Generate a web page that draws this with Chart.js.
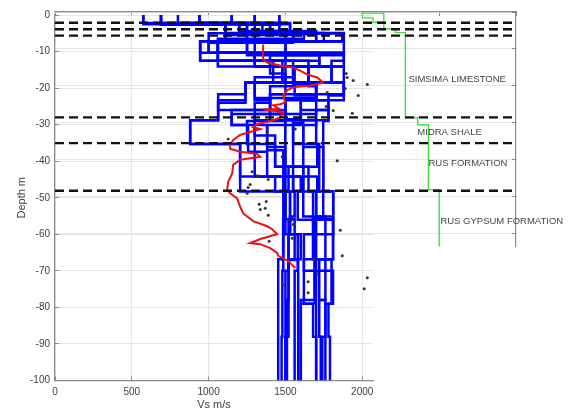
<!DOCTYPE html>
<html>
<head>
<meta charset="utf-8">
<script src="https://cdn.jsdelivr.net/npm/chart.js@4.4.1/dist/chart.umd.min.js"></script>
<style>
  body { margin: 0; background: #fff; }
  #wrap { position: relative; width: 570px; height: 412px; }
  #wrap canvas { position: absolute; left: 0; top: 0; }
</style>
</head>
<body>
<div id="wrap">
  <canvas id="frame" width="570" height="412"></canvas>
  <canvas id="main" width="570" height="412"></canvas>
  <canvas id="geo" width="570" height="412"></canvas>
</div>
<script>
// Vs profiles (layer bottoms in m, shear velocity in m/s)
const profileBottoms = [
  [-2.2, -4.9, -7.2, -12.5, -18.5, -23.3, -28.8, -35.3, -48.3, -55.9, -66.8, -88, -100],
  [-2.7, -5.5, -7.6, -10.3, -14.1, -18.5, -21.7, -26, -30.1, -37.4, -44.2, -48.3, -55.1, -60, -70, -78, -100],
  [-2.2, -4.4, -7.2, -12.5, -17, -22.7, -27.1, -35.3, -41.5, -48.3, -56, -66.8, -78, -100],
  [-2.7, -5, -7.6, -11, -14.1, -19.5, -23.3, -28.5, -36.1, -44.2, -48.3, -55.1, -66.8, -79, -88, -100],
  [-2.2, -5, -7.2, -10.3, -12.5, -18.5, -22, -26, -30.1, -36.1, -48.3, -60, -70, -79, -100],
  [-2.5, -5.3, -7.6, -12.5, -16, -21.7, -27.1, -29.5, -37.4, -48.3, -55.9, -66.8, -88, -100],
  [-2.2, -4.9, -6.5, -10.3, -14.1, -18.5, -24, -28.8, -35.3, -44.2, -48.3, -56, -67, -78, -100],
  [-2.7, -4.9, -7.2, -10.3, -14.1, -19, -23.3, -28.8, -35.3, -41.5, -48.3, -55.1, -66.8, -79, -100],
  [-2.5, -5, -7.6, -12.5, -18.5, -22.7, -27.1, -30.1, -37, -48.3, -60, -70, -88, -100],
  [-2.2, -5, -7.2, -10.3, -14.1, -18.5, -23.3, -28.8, -33, -41.5, -48.3, -55.9, -66.8, -78, -88, -100],
  [-2.7, -5, -7.2, -11, -14.1, -18.5, -21.7, -26, -29, -35.3, -44.2, -48.3, -60, -70, -100],
  [-2.2, -4.4, -7.2, -12.5, -14.1, -18.5, -23.3, -26, -29, -37.4, -48.3, -55.1, -66.8, -79, -100],
  [-2.5, -4.9, -7.2, -10.3, -14.1, -18.5, -22, -27.1, -30.1, -36.1, -44.2, -48.3, -55.1, -66.8, -79, -88, -100],
  [-2.2, -5, -7.6, -12.5, -14.1, -19.5, -24, -28.8, -35.3, -41.5, -48.3, -60, -66.8, -78, -100],
  [-2.7, -5.3, -7.2, -10.3, -14.1, -18.5, -23.3, -28.8, -35.3, -48.3, -55.9, -66.8, -78, -88, -100]
];
const profileVs = [
  [575, 1460, 1880, 945, 1420, 1240, 1062, 880, 1205, 1500, 1485, 1453, 1453],
  [690, 1110, 1550, 1000, 1300, 1480, 1880, 1400, 1150, 1257, 1381, 1550, 1560, 1530, 1520, 1500, 1500],
  [940, 1200, 1700, 1060, 1550, 1300, 1500, 1300, 1433, 1616, 1580, 1810, 1690, 1600],
  [1300, 1400, 1110, 1250, 1720, 1650, 1700, 1600, 1500, 1498, 1707, 1746, 1680, 1620, 1680, 1700],
  [1150, 1300, 1870, 1500, 1880, 1800, 1880, 1780, 1700, 1616, 1746, 1811, 1620, 1810, 1760],
  [690, 1530, 1250, 1500, 1400, 1500, 1400, 1600, 1550, 1550, 1498, 1560, 1520, 1500],
  [940, 1110, 1620, 1060, 1300, 1880, 1240, 1062, 880, 1205, 1433, 1530, 1520, 1583, 1583],
  [1460, 1350, 1750, 945, 1720, 1550, 1700, 1500, 1700, 1707, 1616, 1616, 1680, 1690, 1600],
  [575, 1250, 1000, 1300, 1480, 1700, 1500, 1150, 1381, 1490, 1485, 1485, 1480, 1475],
  [1300, 1460, 1880, 1250, 1060, 1650, 1300, 1400, 1300, 1433, 1650, 1700, 1810, 1720, 1760, 1740],
  [940, 1110, 1500, 1880, 1400, 1550, 1240, 1062, 1500, 1250, 1300, 1500, 1530, 1580, 1560],
  [690, 1530, 1300, 945, 1720, 1800, 1880, 1600, 1780, 1746, 1746, 1811, 1690, 1700, 1700],
  [1150, 1250, 1550, 1000, 1500, 1650, 1560, 1700, 1600, 1381, 1500, 1600, 1700, 1760, 1800, 1780, 1790],
  [800, 1400, 1250, 1060, 1650, 1560, 1400, 1300, 1550, 1616, 1520, 1500, 1600, 1520, 1510],
  [1460, 1200, 1700, 1060, 1880, 1500, 1700, 1780, 1616, 1720, 1680, 1700, 1760, 1720, 1730]
];

// red averaged profile
const redVs = [1355, 1355, 1381, 1466, 1550, 1596, 1642, 1707, 1746, 1661, 1550, 1511, 1485, 1498, 1466,
  1420, 1466, 1401, 1355, 1485, 1466, 1420, 1316, 1290, 1336, 1270, 1205, 1160, 1140, 1140, 1205, 1316,
  1336, 1205, 1160, 1153, 1127, 1121, 1140, 1186, 1205, 1225, 1290, 1381, 1414, 1446, 1336, 1270, 1336,
  1401, 1446, 1453, 1518, 1564];
const redDepths = [-8.1, -12.2, -13.0, -13.8, -14.4, -15.2, -16.3, -17.1, -18.5, -19.3, -19.8, -20.6, -22.0,
  -23.9, -24.4, -24.7, -25.8, -25.8, -25.8, -26.6, -28.0, -28.8, -29.9, -30.7, -31.2, -32.0, -32.8, -34.2,
  -35.5, -36.6, -37.4, -38.0, -38.8, -39.6, -41.0, -43.4, -45.6, -47.8, -48.8, -50.2, -52.4, -54.3, -56.4,
  -57.8, -58.6, -60.0, -61.3, -62.4, -62.7, -63.8, -65.1, -65.9, -67.3, -69.2];

// measured points
const dotVs = [1896, 1941, 2033, 1889, 1974, 1902, 1772, 1765, 1811, 1935, 1564, 1381, 1127, 1479, 1837,
  1283, 1316, 1388, 1270, 1257, 1251, 1375, 1329, 1368, 1336, 1388, 1537, 1550, 1857, 1544, 1394, 1583,
  1870, 1687, 1485, 1648, 1648, 2033, 2013, 1707];
const dotDepths = [-16.0, -17.9, -19.0, -20.1, -22.0, -17.1, -21.2, -25.0, -26.1, -26.9, -31.2, -32.0, -33.9,
  -38.8, -39.9, -42.9, -44.0, -45.0, -46.4, -47.2, -48.8, -51.0, -51.8, -52.9, -53.2, -54.8, -56.2, -57.3,
  -58.9, -61.1, -61.9, -63.2, -65.9, -66.8, -73.8, -73.0, -76.0, -71.9, -74.9, -70.8];

// formation boundaries and geology column
const dashDepths = [-2.9, -4.7, -6.4, -28.6, -35.6, -48.5];
const dashSpan = [0, 3000];
const greenVs = [2000, 2070, 2140, 2215, 2280, 2360, 2430, 2500];
const greenBottoms = [-1.6, -2.8, -4.6, -5.6, -28.7, -30.6, -48.2, -63.7];
const greenCapVs = [2000, 2140, 2140];
const greenCapDepths = [-0.3, -0.3, -2.8];
const formationNames = ["SIMSIMA LIMESTONE", "MIDRA SHALE", "RUS FORMATION", "RUS GYPSUM FORMATION"];
const formationLabelVs = [2300, 2358, 2430, 2508];
const formationLabelDepths = [-18.2, -32.8, -41.2, -56.7];

// axis ticks
const vsTicks = [0, 500, 1000, 1500, 2000];
const depthTicks = [0, -10, -20, -30, -40, -50, -60, -70, -80, -90, -100];
const geoVsTicks = [0, 500, 1000, 1500, 2000, 2500, 3000];
const geoDepthTicks = [0, -10, -20, -30, -40, -50, -60];

const FONT = "'Liberation Sans', Arial, sans-serif";
const TEXT = "#404040";
const AXIS = "#8a8a8a";
const GRID = "#e6e6e6";
const GEO_PADDING = { top: 12, left: 55, right: 54, bottom: 165.3 };

function stepPoints(bottoms, vs) {
  const pts = [];
  let top = 0;
  for (let i = 0; i < vs.length; i++) {
    pts.push({ x: vs[i], y: top });
    pts.push({ x: vs[i], y: bottoms[i] });
    top = bottoms[i];
  }
  return pts;
}

function setTicks(values) {
  return s => { s.ticks = values.map(v => ({ value: v })); };
}

// ---- main axes: blue profiles, red mean, black points ----
const mainSets = [];
mainSets.push({
  data: redVs.map((v, i) => ({ x: v, y: redDepths[i] })),
  borderColor: "#ee1111", borderWidth: 2, pointRadius: 0, showLine: true, order: 0
});
mainSets.push({
  data: dotVs.map((v, i) => ({ x: v, y: dotDepths[i] })),
  backgroundColor: "#333", borderWidth: 0, pointRadius: 1.5, showLine: false, order: 1
});
profileVs.forEach((vs, i) => {
  mainSets.push({
    data: stepPoints(profileBottoms[i], vs),
    borderColor: "#0000ff", borderWidth: 2.5, pointRadius: 0, showLine: true, order: 2
  });
});

// ---- geology axes: dashed boundaries, green column ----
const geoSets = [];
dashDepths.forEach(d => {
  geoSets.push({
    data: dashSpan.map(v => ({ x: v, y: d })),
    borderColor: "#111", borderWidth: 2.4, borderDash: [9, 5],
    pointRadius: 0, showLine: true, order: 0
  });
});
geoSets.push({
  data: stepPoints(greenBottoms, greenVs),
  borderColor: "#44dd44", borderWidth: 1.4, pointRadius: 0, showLine: true, order: 1
});
geoSets.push({
  data: greenCapVs.map((v, i) => ({ x: v, y: greenCapDepths[i] })),
  borderColor: "#44dd44", borderWidth: 1.4, pointRadius: 0, showLine: true, order: 1
});

// formation names next to the geology column
const formationLabels = {
  id: "formationLabels",
  afterDatasetsDraw(chart) {
    const ctx = chart.ctx;
    const xs = chart.scales.x, ys = chart.scales.y;
    ctx.save();
    ctx.font = "9.5px " + FONT;
    ctx.fillStyle = "#444";
    ctx.textAlign = "left";
    ctx.textBaseline = "middle";
    formationNames.forEach((name, i) => {
      ctx.fillText(name, xs.getPixelForValue(formationLabelVs[i]), ys.getPixelForValue(formationLabelDepths[i]));
    });
    ctx.restore();
  }
};

const quiet = { legend: { display: false }, tooltip: { enabled: false } };

// frame of the geology axes (grid, top and right borders) - drawn underneath
new Chart(document.getElementById("frame"), {
  type: "scatter",
  data: { datasets: [] },
  options: {
    responsive: false,
    animation: false,
    layout: { padding: GEO_PADDING },
    plugins: quiet,
    scales: {
      x: {
        type: "linear", position: "top", min: 0, max: 3000,
        afterBuildTicks: setTicks(geoVsTicks),
        ticks: { display: false },
        grid: { drawOnChartArea: false, tickLength: -4, tickColor: AXIS },
        border: { color: AXIS, width: 1.2 },
        afterFit(s) { s.height = 0; }
      },
      y: {
        type: "linear", position: "right", min: -63.7, max: 0,
        afterBuildTicks: setTicks(geoDepthTicks),
        ticks: { display: false },
        grid: { color: GRID, tickLength: -4, tickColor: AXIS },
        border: { color: AXIS, width: 1.2 },
        afterFit(s) { s.width = 0; }
      }
    }
  }
});

// main axes
new Chart(document.getElementById("main"), {
  type: "scatter",
  data: { datasets: mainSets },
  options: {
    responsive: false,
    animation: false,
    layout: { padding: { top: 12, right: 197, left: 0, bottom: 0 } },
    plugins: quiet,
    scales: {
      x: {
        type: "linear", position: "bottom", min: 0, max: 2070,
        afterBuildTicks: setTicks(vsTicks),
        ticks: {
          padding: 10, maxRotation: 0, autoSkip: false,
          color: TEXT, font: { family: FONT, size: 10 },
          callback: v => String(v)
        },
        grid: { color: GRID, tickLength: -4, tickColor: AXIS },
        border: { color: AXIS, width: 1.2 },
        title: { display: true, text: "Vs m/s", color: TEXT, font: { family: FONT, size: 11 }, padding: { top: 0, bottom: 0 } },
        afterFit(s) { s.height = 31.5; }
      },
      y: {
        type: "linear", min: -100, max: 0,
        afterBuildTicks: setTicks(depthTicks),
        ticks: {
          padding: 9, autoSkip: false,
          color: TEXT, font: { family: FONT, size: 10 },
          callback: v => String(v)
        },
        grid: { color: GRID, tickLength: -4, tickColor: AXIS },
        border: { color: AXIS, width: 1.2 },
        title: { display: true, text: "Depth m", color: TEXT, font: { family: FONT, size: 11 }, padding: { top: 15, bottom: 0 } },
        afterFit(s) { s.width = 55; }
      }
    }
  }
});

// geology overlay on top: same frame as the geology axes, axes hidden
new Chart(document.getElementById("geo"), {
  type: "scatter",
  data: { datasets: geoSets },
  plugins: [formationLabels],
  options: {
    responsive: false,
    animation: false,
    layout: { padding: GEO_PADDING },
    plugins: quiet,
    scales: {
      x: { type: "linear", min: 0, max: 3000, display: false },
      y: { type: "linear", min: -63.7, max: 0, display: false }
    }
  }
});
</script>
</body>
</html>
